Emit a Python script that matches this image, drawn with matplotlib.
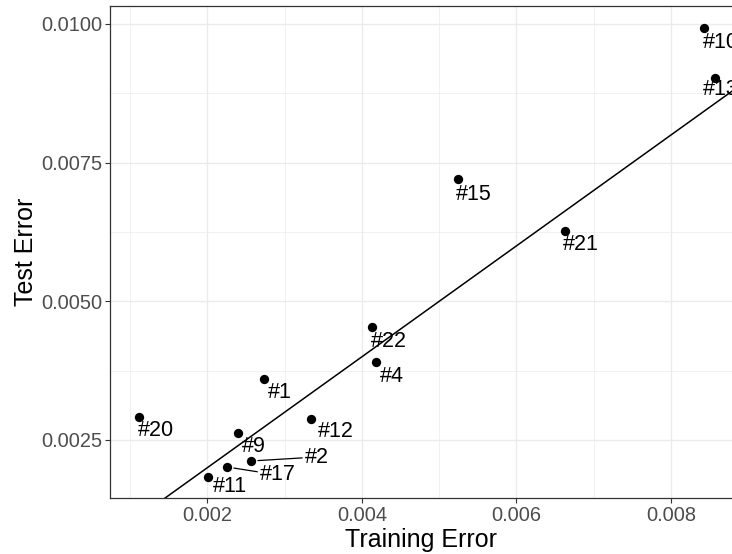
import matplotlib.pyplot as plt
from matplotlib.ticker import MultipleLocator, FormatStrFormatter

plt.rcParams["font.family"] = ["Liberation Sans", "DejaVu Sans"]

labels = ["#20", "#11", "#17", "#2", "#9", "#12", "#1", "#22", "#4", "#15", "#21", "#10", "#13"]
train_err = [0.001116, 0.002009, 0.002255, 0.002565, 0.002397, 0.003341, 0.002734,
             0.004131, 0.004183, 0.005244, 0.006628, 0.008424, 0.008566]
test_err = [0.002915, 0.001833, 0.002013, 0.002121, 0.002626, 0.002879, 0.003600,
            0.004537, 0.003906, 0.007205, 0.006268, 0.009927, 0.009026]

# label offsets in pixels (right, down), like ggrepel placed them
offsets = [(-1, 14), (5, 10), (33, 8), (54, -4), (4, 14), (7, 13), (4, 14),
           (-1, 15), (4, 15), (-2, 15), (-2, 14), (-1, 14), (-12, 12)]
with_segment = {"#17", "#2"}

fig = plt.figure(figsize=(7.32, 5.54), dpi=100)
ax = fig.add_axes([110 / 732, 56 / 554, 1 - 110 / 732, 492 / 554])

ax.set_xlim(0.000741, 0.008788)
ax.set_ylim(0.001454, 0.010324)

ax.xaxis.set_major_locator(MultipleLocator(0.002))
ax.xaxis.set_minor_locator(MultipleLocator(0.001))
ax.yaxis.set_major_locator(MultipleLocator(0.0025))
ax.yaxis.set_minor_locator(MultipleLocator(0.00125))
ax.xaxis.set_major_formatter(FormatStrFormatter("%.3f"))
ax.yaxis.set_major_formatter(FormatStrFormatter("%.4f"))

ax.grid(which="major", color="#EBEBEB", lw=1.0)
ax.grid(which="minor", color="#EBEBEB", lw=0.5)
ax.set_axisbelow(True)

ax.tick_params(which="major", length=3.5, width=0.8, color="#333333",
               labelsize=14.4, labelcolor="#4D4D4D", pad=2)
ax.tick_params(which="minor", length=0)

for s in ["left", "top", "bottom"]:
    ax.spines[s].set_color("#333333")
    ax.spines[s].set_linewidth(0.9)
ax.spines["right"].set_visible(False)

ax.axline((0, 0), slope=1, color="black", lw=1.1, zorder=2)
ax.scatter(train_err, test_err, s=45, color="black", zorder=3, linewidths=0)

for lab, x, y, (dx, dy) in zip(labels, train_err, test_err, offsets):
    arrow = None
    if lab in with_segment:
        arrow = dict(arrowstyle="-", color="black", lw=0.9, shrinkA=0, shrinkB=5)
    ax.annotate(lab, (x, y), xytext=(dx * 0.72, -dy * 0.72), textcoords="offset points",
                ha="left", va="center", fontsize=15.5, color="black",
                arrowprops=arrow, zorder=4, annotation_clip=False)

ax.set_xlabel("Training Error", fontsize=18, labelpad=2.5)
ax.set_ylabel("Test Error", fontsize=18, labelpad=2)

fig.savefig("out.png", dpi=100)
